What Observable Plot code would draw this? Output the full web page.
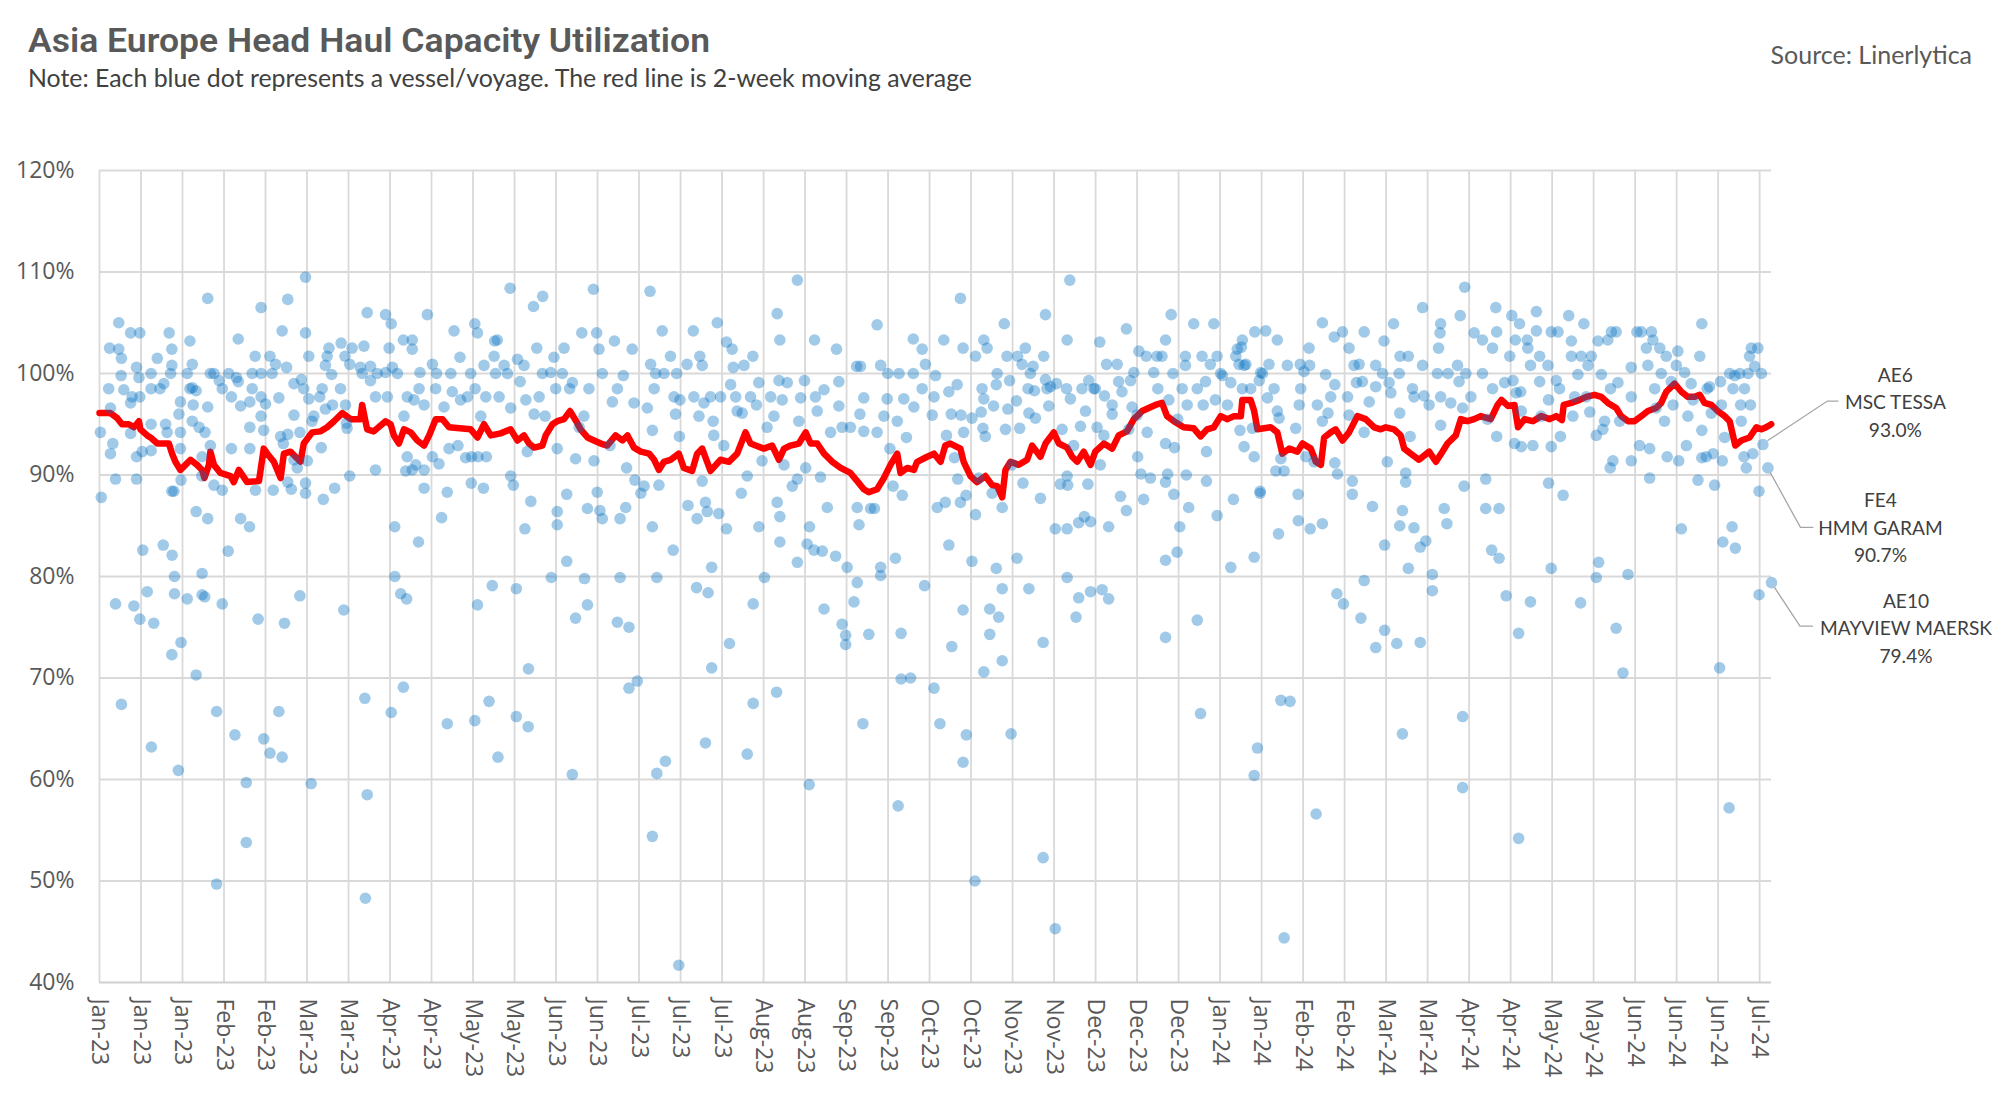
<!DOCTYPE html>
<html><head><meta charset="utf-8">
<script src="https://cdn.jsdelivr.net/npm/d3@7"></script>
<script src="https://cdn.jsdelivr.net/npm/@observablehq/plot@0.6"></script>
<style>
body{margin:0;background:#fff;width:2000px;height:1103px;overflow:hidden;}
#header{position:relative;height:100px;width:2000px;}
#title{position:absolute;left:28px;top:24px;font:600 33px Roboto,sans-serif;color:#595959;white-space:nowrap;transform-origin:0 50%;line-height:33px;}
#subtitle{position:absolute;left:28px;top:63px;font:400 25px Lato,sans-serif;color:#404040;white-space:nowrap;line-height:28px;transform-origin:0 50%;}
#source{position:absolute;right:28px;top:40px;font:400 25px Lato,sans-serif;color:#595959;white-space:nowrap;line-height:28px;}
#chart svg{display:block;overflow:visible;}
</style></head><body>
<div id="header">
  <div id="title">Asia Europe Head Haul Capacity Utilization</div>
  <div id="subtitle">Note: Each blue dot represents a vessel/voyage. The red line is 2-week moving average</div>
  <div id="source">Source: Linerlytica</div>
</div>
<div id="chart"></div>
<script>
// ---- DATA (day = days since 1 Jan 2023, value = utilization %) ----
const dotsJanMar23 = [[0.3,94.2],[0.6,87.8],[3.1,98.5],[3.4,102.5],[3.7,96.6],[3.7,92.1],[4.5,93.1],[5.4,89.6],[5.4,77.3],[6.5,105.0],[6.5,102.4],[7.4,101.5],[7.4,67.4],[7.3,99.8],[8.2,98.4],[10.5,104.0],[10.5,97.1],[10.5,94.1],[11.0,97.7],[11.6,77.1],[12.5,100.6],[12.5,91.8],[12.5,89.6],[13.3,99.6],[13.6,104.0],[13.6,97.7],[13.6,75.8],[14.6,82.6],[14.4,92.3],[16.1,78.5],[17.4,100.0],[17.4,98.5],[17.4,95.0],[17.4,92.4],[17.5,63.2],[18.3,75.4],[19.5,101.5],[20.4,98.5],[21.5,83.1],[21.7,99.0],[22.3,95.0],[22.8,94.2],[23.5,104.0],[24.0,100.0],[24.4,102.4],[24.4,100.8],[24.4,88.4],[24.4,72.3],[24.5,82.1],[25.1,88.4],[25.3,80.0],[25.3,78.3],[26.6,60.9],[26.8,96.0],[27.3,97.2],[27.3,94.2],[27.3,92.6],[27.5,73.5],[27.5,89.5],[29.6,100.0],[29.6,77.8],[30.5,103.2],[30.5,98.5],[31.3,100.9],[31.3,98.6],[31.3,95.3],[31.6,96.9],[32.6,98.3],[32.6,86.4],[32.6,70.3],[33.6,94.7],[34.5,89.9],[34.6,91.8],[34.6,80.3],[34.6,78.2],[35.5,78.0],[35.6,94.2],[36.5,107.4],[36.5,96.7],[36.5,85.7],[37.4,100.0],[37.4,92.9],[38.6,100.0],[38.6,89.0],[39.5,66.7],[39.5,49.7],[40.4,99.3],[41.4,98.5],[41.4,88.5],[41.4,77.3],[43.4,82.5],[43.6,100.0],[44.5,97.7],[44.5,92.6],[45.7,64.4],[46.2,99.6],[46.8,99.2],[46.8,103.4],[47.6,96.8],[47.6,85.7],[49.5,59.7],[49.5,53.8],[50.6,84.9],[50.7,97.2],[50.7,94.7],[50.7,92.6],[51.5,98.5],[51.5,100.0],[52.5,101.7],[52.6,88.5],[53.5,75.8],[54.5,106.5],[54.5,100.0],[54.5,97.7],[54.5,95.8],[55.4,64.0],[55.4,94.4],[56.0,97.0],[57.5,62.6],[57.5,101.7],[58.2,100.0],[58.6,88.5],[59.4,100.9],[60.5,97.6],[60.5,66.7],[61.1,93.8],[61.6,62.2],[61.6,104.2],[62.0,93.1],[62.4,75.4],[63.1,100.6],[63.5,107.3],[63.5,94.0],[63.5,89.3],[64.7,88.6],[65.6,95.9],[65.6,99.0],[65.6,91.5],[66.7,90.7],[67.6,94.2],[67.6,78.1],[68.1,99.4],[68.9,98.5],[69.5,109.5],[69.5,104.0],[69.5,89.2],[69.5,88.2],[70.1,91.4],[70.6,101.7],[70.6,97.5],[71.4,59.6],[71.7,95.3],[72.3,95.8],[74.3,97.7],[74.8,92.7],[75.1,98.5],[75.5,87.6],[76.2,100.8],[76.2,96.5],[76.8,101.7],[77.4,102.5],[78.3,99.9],[78.6,96.9],[79.3,88.7],[81.3,98.5],[81.5,103.0],[82.4,76.7],[82.8,101.7],[83.0,96.9],[83.3,95.1],[83.5,94.6],[84.4,89.9],[84.4,100.9],[85.2,102.5],[88.0,100.6],[88.6,100.0],[89.2,102.7],[89.5,68.0],[89.7,48.3],[90.3,106.0],[90.3,58.5],[91.4,99.3],[91.4,100.7],[93.1,90.5],[93.1,97.7],[93.7,100.0]];
const dotsAprJun23 = [[96.5,105.8],[96.5,100.1],[97.1,97.7],[97.7,102.5],[98.4,104.9],[98.4,66.6],[98.8,100.6],[99.6,84.9],[99.6,80.0],[100.5,100.0],[101.6,78.3],[102.5,103.3],[102.5,69.1],[102.7,95.8],[103.3,90.4],[103.6,77.8],[103.8,97.7],[103.8,91.8],[105.5,103.3],[105.5,102.4],[105.5,90.5],[106.1,97.4],[106.7,91.0],[107.6,83.4],[107.8,98.5],[108.1,100.1],[109.5,96.9],[109.5,90.5],[109.5,88.7],[110.6,105.8],[112.3,100.9],[112.3,91.8],[113.4,98.5],[113.7,100.0],[114.5,91.1],[115.4,85.8],[116.2,96.7],[117.3,88.3],[117.3,65.5],[117.9,92.6],[118.5,100.0],[119.0,98.2],[119.6,104.2],[120.9,92.9],[121.6,101.6],[121.8,97.4],[123.5,91.7],[124.1,97.7],[125.2,100.0],[125.4,89.2],[125.5,91.8],[126.6,104.9],[126.6,65.8],[126.7,98.5],[127.5,104.0],[127.5,77.2],[127.7,91.8],[128.6,95.8],[129.5,88.7],[129.7,100.8],[130.3,97.7],[130.5,91.8],[131.4,67.7],[132.5,79.1],[133.1,101.7],[133.3,103.2],[133.6,100.0],[134.2,103.3],[134.4,62.2],[134.8,97.7],[136.5,100.8],[137.6,100.0],[138.5,108.4],[138.7,89.9],[138.7,96.6],[139.6,89.0],[140.6,78.8],[140.6,66.2],[141.0,101.4],[141.9,99.2],[143.2,100.8],[143.5,84.7],[143.8,97.4],[144.3,92.3],[144.6,65.2],[144.7,70.9],[145.5,87.4],[146.4,106.6],[146.6,96.0],[147.5,102.5],[148.3,97.7],[149.4,100.0],[149.5,107.6],[150.3,95.8],[152.2,100.1],[152.4,79.9],[153.3,101.6],[153.9,98.5],[154.4,92.6],[154.4,86.4],[154.4,85.1],[156.1,100.0],[156.7,102.5],[157.6,88.1],[157.6,81.5],[158.6,98.5],[159.5,99.1],[159.5,60.5],[160.6,91.6],[160.6,75.9],[161.8,94.7],[162.7,104.0],[163.4,95.8],[163.6,79.8],[164.6,86.7],[164.6,77.2],[165.1,98.5],[166.6,108.3],[166.8,91.4],[167.7,104.0],[167.9,88.3],[168.5,102.4],[168.8,86.5],[169.6,85.7],[169.6,100.0],[172.2,92.9],[173.0,97.2],[173.7,103.2],[174.7,98.5],[175.6,85.7],[175.6,79.9],[174.7,75.5],[176.7,99.8],[177.5,86.8],[177.8,90.7],[178.6,75.0],[178.6,69.0],[179.7,102.4],[180.3,97.1],[180.6,89.5],[181.4,69.7],[182.6,88.2],[183.7,88.9],[184.8,96.6],[185.7,108.1],[185.9,100.9],[186.5,94.4],[186.5,84.9],[187.1,98.5],[187.6,100.0],[188.0,60.6],[186.5,54.4],[188.0,79.9],[188.7,89.0]];
const dotsJulSep23 = [[189.8,104.2],[190.4,100.0],[190.9,61.8],[192.6,101.7],[193.5,82.6],[193.8,97.7],[194.3,96.0],[194.7,100.0],[195.6,93.8],[195.8,97.4],[195.4,41.7],[198.2,100.9],[198.5,87.0],[200.3,104.2],[200.5,97.7],[201.4,78.9],[201.6,85.7],[202.2,95.8],[202.5,101.7],[203.3,100.8],[203.3,89.4],[203.9,97.1],[204.4,87.3],[204.4,63.6],[205.0,86.4],[205.3,78.4],[206.1,97.7],[206.5,80.9],[206.5,71.0],[207.0,95.3],[207.2,93.9],[208.4,105.0],[208.9,86.2],[209.5,97.7],[210.6,92.9],[211.5,103.1],[211.5,84.7],[212.5,73.4],[212.9,98.9],[213.4,102.4],[213.8,100.6],[214.6,97.7],[215.1,96.3],[216.5,88.2],[216.8,96.1],[217.4,100.8],[218.5,89.9],[218.5,62.5],[219.6,97.7],[220.4,101.7],[220.5,77.3],[220.5,67.5],[221.6,96.9],[222.4,84.9],[222.4,99.1],[223.5,91.4],[224.3,79.9],[225.2,94.7],[226.4,97.7],[227.5,95.8],[228.4,68.6],[228.6,105.9],[228.6,87.3],[229.2,99.3],[229.5,103.3],[229.5,85.9],[229.5,83.4],[230.3,97.4],[230.9,91.0],[232.0,99.1],[233.7,88.9],[235.4,109.2],[235.4,81.4],[235.4,89.6],[235.9,95.3],[236.5,97.6],[237.8,99.3],[238.2,90.7],[238.7,83.2],[239.4,59.5],[239.5,84.9],[241.0,82.6],[241.2,103.3],[241.5,97.7],[242.1,96.3],[243.2,89.8],[243.8,82.5],[244.4,76.8],[244.4,98.4],[245.5,86.8],[246.6,94.2],[248.3,82.0],[248.6,102.4],[249.4,99.2],[249.4,96.8],[250.5,75.3],[250.5,94.7],[251.7,74.2],[251.7,73.3],[252.2,80.9],[253.3,94.7],[254.5,77.5],[255.4,100.7],[255.6,86.8],[255.6,79.4],[256.2,85.1],[256.5,96.0],[256.7,100.7],[257.5,65.5],[257.8,97.6],[257.8,94.3],[259.5,74.3],[260.1,86.7],[261.4,86.7],[262.3,104.8],[262.3,94.2],[263.5,100.8],[263.5,80.9],[263.5,80.1],[264.6,95.8],[265.7,97.5],[265.9,100.0],[266.6,92.6],[267.7,88.9],[268.5,81.8],[269.1,95.3],[269.4,57.4],[269.7,100.0],[270.4,74.4],[270.4,69.9],[270.8,88.0],[271.3,97.5],[272.2,93.7],[273.6,70.0],[274.5,103.4],[274.5,100.0],[274.7,96.7],[277.5,102.4],[277.5,98.5],[278.3,79.1],[278.6,100.9],[280.9,95.9],[281.5,97.7],[281.5,69.0],[282.0,99.8],[282.6,86.8],[283.5,65.5]];
const dotsOctDec23 = [[284.8,103.3],[285.3,87.3],[285.7,93.9],[286.5,83.1],[286.5,98.2],[287.3,96.0],[287.5,73.1],[288.4,91.7],[289.3,98.9],[289.5,89.6],[290.4,107.4],[290.4,87.3],[290.6,95.9],[291.3,102.5],[291.3,76.7],[291.3,61.7],[291.5,94.2],[292.3,88.0],[292.4,64.4],[294.3,95.6],[294.3,81.5],[295.3,50.0],[295.5,101.7],[295.5,86.1],[296.6,89.7],[297.4,96.2],[297.7,98.5],[298.0,94.6],[298.3,103.3],[298.3,97.5],[298.3,70.6],[298.8,93.8],[299.4,102.5],[300.3,76.8],[300.3,74.3],[301.1,88.2],[301.6,96.8],[302.5,98.9],[302.5,80.8],[302.8,100.0],[303.3,76.0],[304.5,78.8],[304.5,71.7],[304.5,86.8],[305.2,104.9],[305.6,94.5],[306.1,101.7],[306.4,96.5],[307.0,99.3],[307.5,64.5],[307.8,91.0],[309.3,97.3],[309.5,81.8],[309.7,101.7],[310.4,94.6],[311.2,100.9],[311.5,89.2],[312.3,102.5],[313.2,98.5],[313.5,96.1],[313.5,78.8],[314.0,100.0],[314.9,100.7],[315.4,98.3],[315.7,95.6],[317.4,87.7],[318.3,73.5],[318.3,52.3],[318.5,101.7],[319.1,105.8],[319.1,99.4],[319.6,98.5],[320.2,96.8],[320.8,98.7],[322.4,84.7],[322.4,45.3],[322.8,99.0],[324.1,89.1],[324.7,94.5],[326.2,98.5],[326.4,103.3],[326.4,89.9],[326.4,84.7],[326.4,79.9],[326.6,89.0],[327.3,109.2],[327.5,97.5],[328.6,92.9],[329.4,76.0],[330.3,85.3],[330.3,77.9],[330.9,94.8],[331.4,98.5],[332.2,85.9],[332.6,96.3],[333.4,89.1],[333.7,99.3],[334.3,85.4],[334.3,78.5],[335.4,98.5],[335.9,98.5],[336.5,94.7],[337.4,103.1],[337.6,91.0],[338.2,78.7],[338.8,93.9],[339.0,97.8],[339.7,100.9],[340.4,77.8],[340.4,84.9],[341.6,96.9],[341.6,96.0],[343.3,100.9],[343.8,99.2],[344.4,87.9],[344.9,98.2],[346.4,86.5],[346.4,104.4],[347.2,94.5],[347.8,99.3],[348.3,96.7],[348.9,100.1],[350.0,95.9],[350.2,91.8],[350.6,102.2],[351.3,90.1],[352.2,87.6],[353.1,101.7],[353.4,94.2],[354.5,89.7],[355.6,100.1],[356.7,101.7],[357.0,98.5],[358.4,101.7],[359.6,103.3],[359.6,93.1],[359.6,89.3],[359.6,81.6],[359.6,74.0],[360.3,90.1],[360.7,97.4],[361.5,105.8],[362.1,100.0],[362.4,88.1],[362.6,92.7],[363.5,82.4],[363.7,95.5],[364.4,84.9],[365.2,98.5],[366.3,101.7],[366.3,100.8],[366.6,90.0],[366.9,96.9],[367.4,86.8],[369.1,104.9],[370.3,75.7],[370.3,98.5],[371.4,66.5],[371.9,101.7],[372.3,96.9],[373.1,99.2],[373.4,92.3],[373.4,89.4],[374.7,100.9],[375.9,104.9],[376.4,97.4],[377.0,86.0],[377.0,101.7]];
const dotsJanMar24 = [[378.2,100.0],[378.8,99.8],[380.5,96.9],[381.6,80.9],[381.6,99.1],[382.5,87.6],[383.3,101.7],[383.8,102.4],[384.4,100.9],[384.7,94.4],[385.2,102.6],[385.5,103.3],[385.5,98.5],[386.1,92.8],[386.1,100.8],[386.7,100.9],[388.3,98.5],[388.9,94.6],[389.5,91.8],[389.5,81.9],[389.5,60.4],[389.7,104.1],[390.6,63.1],[391.2,99.3],[391.5,88.4],[391.5,88.2],[391.7,100.1],[392.3,100.0],[393.4,104.2],[394.0,97.6],[394.5,100.9],[396.2,98.5],[396.8,90.4],[397.3,103.3],[397.3,96.3],[397.7,84.2],[397.9,95.6],[398.5,67.8],[398.5,91.6],[399.6,90.4],[399.6,44.4],[400.7,100.8],[401.6,67.7],[403.5,94.6],[404.3,88.1],[404.4,85.5],[404.7,96.9],[405.0,100.9],[405.2,98.5],[406.3,100.2],[406.9,91.8],[408.0,102.5],[408.2,100.8],[408.4,84.7],[409.7,91.3],[410.4,56.6],[410.8,96.9],[412.5,105.0],[412.5,85.2],[412.5,95.3],[413.6,99.9],[414.4,96.1],[415.3,97.7],[416.5,103.6],[416.7,91.2],[416.7,98.9],[417.4,78.3],[417.6,90.1],[419.3,104.1],[419.6,77.3],[421.0,97.7],[421.5,102.5],[421.5,95.9],[422.6,89.4],[422.6,88.1],[423.2,100.8],[424.0,99.1],[424.9,100.9],[425.5,75.9],[426.0,99.2],[426.6,104.1],[426.6,94.2],[426.6,79.6],[428.3,97.2],[429.4,86.9],[430.5,100.8],[430.5,98.7],[430.5,73.0],[432.8,100.0],[433.3,103.2],[433.5,83.1],[433.5,74.7],[434.4,91.3],[435.0,99.1],[435.6,98.1],[436.5,104.9],[437.6,73.4],[438.4,100.0],[438.6,96.1],[438.6,85.0],[438.7,101.7],[439.5,86.5],[439.5,64.5],[440.6,89.3],[440.6,90.2],[441.5,101.7],[441.5,80.8],[442.1,93.8],[442.9,98.5],[443.4,97.7],[443.4,84.8],[445.5,73.5],[445.5,82.9],[446.3,106.5],[446.3,100.8],[446.8,97.8],[447.4,83.5],[448.5,96.9],[449.6,80.2],[449.6,78.6],[451.3,100.0],[451.7,102.5],[452.2,104.0],[452.4,104.9],[452.4,97.7],[452.4,94.9],[453.6,86.7],[454.5,85.2],[454.9,100.0],[455.8,97.1],[458.1,100.8],[458.6,99.2],[459.0,105.7],[459.8,66.2],[459.8,59.2],[459.8,96.6],[460.3,88.9],[460.5,108.5],[460.9,100.0],[462.6,97.7],[463.7,104.0],[466.5,103.3],[466.5,100.0],[467.6,89.6],[467.6,86.7],[468.2,95.5],[469.6,82.6],[469.9,102.5],[469.9,98.5],[471.0,106.5],[471.3,104.1],[471.3,93.8],[472.1,81.8],[472.1,86.7]];
const dotsAprJul24 = [[474.5,78.1],[474.0,99.1],[475.7,101.7],[476.4,105.7],[476.8,99.3],[477.3,93.1],[477.6,103.3],[477.9,98.1],[478.7,74.4],[478.7,54.2],[479.0,104.9],[479.4,98.2],[479.6,92.8],[479.6,96.3],[481.6,103.3],[481.8,102.5],[482.7,100.8],[482.7,77.5],[483.5,92.9],[484.7,106.1],[484.7,104.2],[485.8,101.7],[485.8,99.2],[486.3,95.8],[488.6,100.8],[488.8,89.2],[488.8,97.4],[489.7,104.1],[489.7,92.8],[489.7,80.8],[491.4,99.3],[492.0,104.1],[492.5,98.5],[492.8,93.8],[493.7,88.0],[495.6,105.7],[496.5,103.2],[496.5,101.7],[497.0,95.8],[497.6,97.7],[498.7,99.9],[499.6,77.4],[499.8,101.7],[500.7,104.9],[501.5,97.7],[502.1,100.8],[502.7,96.2],[503.2,101.7],[504.9,93.9],[504.9,79.9],[505.5,103.2],[505.7,81.4],[506.6,99.9],[507.1,94.5],[507.7,95.3],[508.8,103.3],[509.6,90.7],[509.7,98.5],[510.0,104.1],[510.5,91.4],[511.6,74.9],[511.6,104.1],[512.2,99.1],[512.8,95.3],[513.9,70.5],[515.6,80.2],[516.7,100.6],[516.7,91.4],[516.7,97.7],[518.6,104.1],[519.5,92.9],[520.1,104.1],[521.8,102.5],[522.3,100.8],[522.9,89.7],[522.9,92.6],[523.5,104.1],[524.0,103.3],[524.6,98.5],[525.1,96.6],[526.3,102.5],[526.8,100.0],[527.9,95.3],[528.5,101.7],[528.8,91.8],[530.2,99.2],[530.8,96.9],[531.9,100.8],[532.4,102.2],[532.7,91.4],[533.6,84.7],[534.7,100.1],[535.3,92.9],[535.8,95.8],[536.9,99.0],[537.5,97.4],[539.2,89.5],[539.8,101.7],[540.5,104.9],[540.5,94.4],[540.5,91.7],[542.0,91.8],[542.3,98.5],[543.1,98.7],[543.7,96.1],[544.3,92.1],[544.8,89.0],[546.5,71.0],[546.8,99.2],[547.1,96.9],[547.4,91.4],[547.6,83.4],[548.2,93.7],[549.7,57.2],[549.9,100.0],[550.7,84.9],[551.0,98.5],[551.6,99.8],[551.8,82.8],[553.3,100.0],[553.6,96.9],[553.8,95.3],[554.7,91.8],[554.9,98.5],[555.5,90.7],[556.1,100.0],[556.6,101.7],[556.9,96.9],[557.2,102.5],[557.7,92.1],[558.3,100.7],[559.4,102.5],[559.8,88.4],[559.8,78.2],[560.6,100.0],[561.1,93.0],[562.8,90.7],[564.0,79.4]];

const avg2023H1 = [[0,96.1],[3.7,96.1],[6.0,95.6],[7.6,95.0],[9.9,95.0],[11.6,94.7],[13.3,95.3],[13.8,94.5],[16.1,93.9],[17.2,93.7],[19.5,93.1],[23.4,93.1],[24.5,92.1],[25.6,91.3],[27.3,90.5],[29.0,91.0],[30.7,91.5],[32.9,91.0],[34.6,90.5],[35.4,89.7],[36.9,91.0],[37.4,92.3],[38.6,91.0],[40.8,90.2],[44.2,89.9],[45.3,89.3],[47.0,90.5],[49.8,89.3],[53.8,89.4],[55.4,92.6],[56.6,92.1],[58.8,91.3],[61.1,89.7],[62.2,92.1],[64.4,92.3],[66.1,91.8],[67.8,91.3],[68.9,93.1],[71.7,94.2],[74.6,94.3],[76.8,94.7],[79.1,95.3],[81.9,96.1],[84.7,95.5],[88.0,95.5],[88.6,96.9],[89.7,95.3],[90.3,94.5],[92.5,94.3],[96.5,95.3],[98.2,95.0],[99.3,93.9],[101.0,93.1],[102.7,94.5],[105.0,94.2],[107.2,93.4],[109.5,92.9],[111.2,93.9],[113.4,95.5],[115.7,95.5],[117.9,94.7],[125.2,94.5],[127.5,93.7],[129.7,95.0],[132.0,93.9],[135.3,94.1],[138.7,94.5],[141.0,93.4],[143.2,93.9],[144.9,93.1],[146.6,92.7],[149.4,92.9],[150.5,93.9],[152.8,95.0],[154.4,95.3],[156.7,95.5],[158.7,96.3],[160.6,95.4],[162.3,94.5],[164.6,93.7],[166.8,93.4],[169.1,93.1],[171.3,92.9],[174.1,93.9],[176.4,93.4],[178.1,93.9],[180.3,92.7]];
const avg2023H2 = [[182.6,92.3],[185.4,92.1],[187.1,91.5],[188.7,90.5],[190.4,91.3],[192.6,91.5],[195.4,92.1],[197.1,90.7],[199.9,90.4],[201.6,92.1],[203.3,92.6],[206.1,90.4],[209.5,91.5],[212.3,91.3],[215.1,92.1],[217.9,94.2],[219.6,93.1],[224.1,92.6],[226.9,92.9],[229.2,91.5],[230.9,92.6],[233.1,92.9],[235.9,93.1],[238.2,94.2],[239.9,93.1],[242.1,93.1],[244.4,92.1],[247.2,91.3],[250.0,90.7],[253.3,90.2],[255.6,89.4],[257.8,88.6],[259.5,88.3],[262.3,88.6],[264.6,89.7],[266.8,91.0],[269.1,92.1],[270.2,90.2],[272.5,90.7],[274.7,90.5],[275.8,91.3],[279.2,91.8],[281.5,92.1],[283.7,91.3],[285.3,92.9],[287.0,93.1],[290.4,92.6],[291.5,91.3],[293.8,89.9],[296.0,89.3],[298.8,89.9],[301.1,89.0],[302.8,88.9],[304.5,87.8],[305.6,90.5],[307.3,91.3],[310.1,91.0],[312.9,91.5],[314.6,92.9],[317.4,91.8],[319.1,93.1],[321.9,94.2],[323.6,93.1],[326.4,92.7],[328.1,91.8],[329.8,91.3],[332.0,92.3],[334.3,91.0],[335.9,92.3],[338.8,93.1],[341.6,92.6],[343.8,93.9],[346.6,94.3],[348.9,95.5],[351.7,96.3],[353.9,96.6],[356.2,96.9],[358.4,97.1],[360.1,95.8],[362.4,95.3]];
const avg2024 = [[365.7,94.7],[369.1,94.6],[371.4,93.8],[373.6,94.5],[375.9,94.7],[378.2,95.8],[380.5,95.5],[382.7,95.8],[385.0,95.8],[385.5,97.4],[388.3,97.4],[389.5,96.3],[390.6,94.5],[392.8,94.6],[395.1,94.7],[397.3,94.2],[399.0,92.1],[401.3,92.6],[404.1,92.3],[405.8,93.1],[408.6,92.6],[410.3,91.3],[412.0,91.0],[413.1,93.7],[415.3,94.2],[417.0,94.5],[419.3,93.4],[421.5,94.2],[424.3,95.8],[427.1,95.5],[430.0,94.7],[432.2,94.5],[433.9,94.7],[436.7,94.5],[438.9,93.9],[440.1,92.6],[442.3,92.1],[445.1,91.5],[448.5,92.3],[450.8,91.3],[453.0,92.3],[454.7,93.1],[457.5,93.9],[459.2,95.5],[461.4,95.3],[463.7,95.5],[465.9,95.8],[469.3,95.5],[471.6,96.9],[472.9,97.4],[475.1,96.8],[477.3,96.9],[478.5,94.7],[480.7,95.5],[483.5,95.3],[486.3,95.8],[489.2,95.5],[491.4,95.8],[493.3,95.4],[493.9,96.9],[496.5,97.1],[499.3,97.4],[501.5,97.7],[504.3,97.9],[506.6,97.7],[508.8,97.1],[511.6,96.6],[513.3,95.8],[515.6,95.3],[517.8,95.3],[520.1,95.8],[522.3,96.3],[525.1,96.6],[526.8,97.1],[528.5,98.2],[531.3,99.0],[533.6,98.2],[535.8,97.7],[538.1,97.7],[539.8,97.9],[541.4,97.1],[543.7,96.9],[545.9,96.3],[548.2,95.8],[549.9,95.3],[551.0,93.9],[551.8,92.9],[553.8,93.4],[556.6,93.7],[558.9,94.7],[560.6,94.5],[562.2,94.7],[563.9,95.0]];

const labelServices = ["AE6", "FE4", "AE10"];
const labelVessels = ["MSC TESSA", "HMM GARAM", "MAYVIEW MAERSK"];
const labelValues = [93.0, 90.7, 79.4];
const labelDays = [561.1, 562.8, 564.0];

const yTicks = [40, 50, 60, 70, 80, 90, 100, 110, 120];

// ---- BUILD ----
const START = Date.UTC(2023, 0, 1);
const toDate = d => new Date(START + d * 864e5);
const toRow = ([d, v]) => ({date: toDate(d), value: v});
const dots = [dotsJanMar23, dotsAprJun23, dotsJulSep23, dotsOctDec23, dotsJanMar24, dotsAprJul24].flat().map(toRow);
const avg = [avg2023H1, avg2023H2, avg2024].flat().map(toRow);
const xTicks = d3.range(0, 561, 14).map(toDate);

// fit header text widths to the original's condensed fonts
function fitWidth(id, target) {
  const el = document.getElementById(id);
  const w = el.getBoundingClientRect().width;
  el.style.transform = `scaleX(${target / w})`;
}
fitWidth("title", 682);
fitWidth("subtitle", 944);

const chart = Plot.plot({
  width: 2000,
  height: 1003,
  marginLeft: 99,
  marginRight: 229,
  marginTop: 70,
  marginBottom: 121,
  style: {fontFamily: "'Open Sans', sans-serif", fontSize: "23px", color: "#595959", background: "#fff", overflow: "visible"},
  x: {type: "utc", domain: [toDate(0), toDate(564)]},
  y: {domain: [40, 120]},
  marks: [
    Plot.ruleX(xTicks, {stroke: "#d9d9d9", strokeWidth: 1.8}),
    Plot.ruleY(yTicks.slice(1), {stroke: "#d9d9d9", strokeWidth: 1.8}),
    Plot.ruleY([40], {stroke: "#d0d0d0", strokeWidth: 2.2}),
    Plot.axisY({ticks: yTicks, tickFormat: d => d + "%", tickSize: 0, tickPadding: 25, label: null, fontSize: 23}),
    Plot.axisX({ticks: xTicks, tickFormat: d3.utcFormat("%b-%y"), tickRotate: 90, tickSize: 0, tickPadding: 16, label: null, fontSize: 23}),
    Plot.line(avg, {x: "date", y: "value", stroke: "#ff0000", strokeWidth: 6.5, strokeLinejoin: "round", strokeLinecap: "round"}),
    Plot.dot(dots, {x: "date", y: "value", r: 5.8, fill: "#0070C0", fillOpacity: 0.37, stroke: "none"})
  ]
});
document.getElementById("chart").appendChild(chart);

// ---- annotations (leader lines + labels) ----
const xs = chart.scale("x"), ys = chart.scale("y");
const layout = [
  {elbow: [65, -43], end: [76, -43], text: [133, -69]},
  {elbow: [33, 60], end: [46, 60], text: [113, 33]},
  {elbow: [29, 44], end: [42, 44], text: [135, 19]}
];
const svg = d3.select(chart);
const g = svg.append("g");
const texts = [];
labelServices.forEach((svc, i) => {
  const px = xs.apply(toDate(labelDays[i])), py = ys.apply(labelValues[i]);
  const L = layout[i];
  const ex = px + L.elbow[0], ey = py + L.elbow[1];
  const len = Math.hypot(L.elbow[0], L.elbow[1]);
  const sx = px + L.elbow[0] / len * 6, sy = py + L.elbow[1] / len * 6;
  g.append("path")
    .attr("d", `M${sx},${sy}L${ex},${ey}L${px + L.end[0]},${py + L.end[1]}`)
    .attr("fill", "none").attr("stroke", "#a6a6a6").attr("stroke-width", 1.3);
  const t = g.append("text")
    .attr("text-anchor", "middle")
    .attr("font-family", "Lato, sans-serif")
    .attr("font-size", 22)
    .attr("fill", "#404040");
  [svc, labelVessels[i], labelValues[i].toFixed(1) + "%"].forEach((s, k) => {
    t.append("tspan").attr("x", px + L.text[0]).attr("y", py + L.text[1] + k * 27.5).attr("dy", "0.35em").text(s);
  });
  texts.push(t);
});
// size annotation font so "MAYVIEW MAERSK" spans the original's width
const widest = texts[2].select("tspan:nth-child(2)").node().getComputedTextLength();
const fs = 22 * 172 / widest;
texts.forEach(t => t.attr("font-size", fs));
</script>
</body></html>
